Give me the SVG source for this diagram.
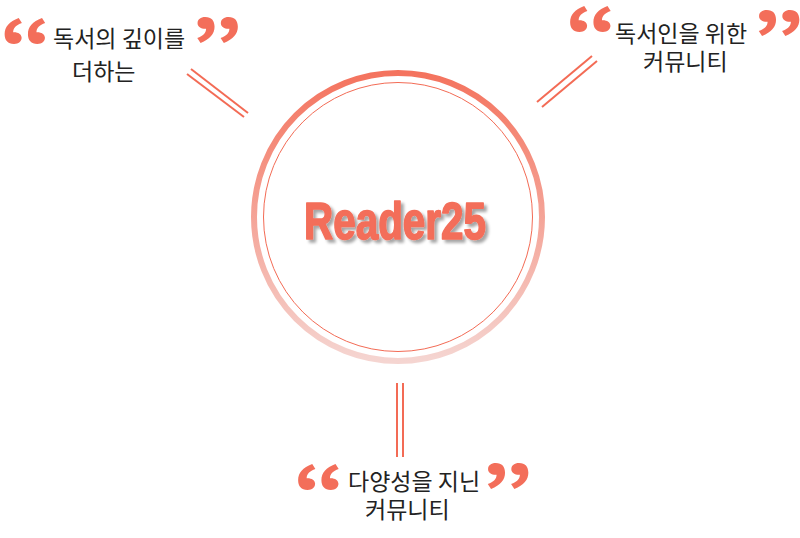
<svg xmlns="http://www.w3.org/2000/svg" width="800" height="538" viewBox="0 0 800 538">
<defs>
<linearGradient id="ringGrad" x1="0" y1="0" x2="0" y2="1">
<stop offset="0" stop-color="#f4735e"/>
<stop offset="1" stop-color="#f5d5d1"/>
</linearGradient>
<filter id="shadow" x="-10%" y="-20%" width="130%" height="160%">
<feGaussianBlur in="SourceAlpha" stdDeviation="1.5"/>
<feOffset dx="3" dy="3" result="b"/>
<feFlood flood-color="#000" flood-opacity="0.35"/>
<feComposite in2="b" operator="in"/>
<feMerge><feMergeNode/><feMergeNode in="SourceGraphic"/></feMerge>
</filter>
</defs>
<style>
.lbl{font-family:"Noto Sans CJK KR","Noto Sans",sans-serif;font-size:23px;fill:#222}
.q{font-family:"Noto Sans CJK KR",sans-serif;font-weight:900;font-size:64px;fill:#f36e5a}
.ln{stroke:#f36b55;stroke-width:2;fill:none}
</style>
<rect width="800" height="538" fill="#fff"/>
<g id="connectors">
<line class="ln" x1="191" y1="69" x2="248" y2="113"/>
<line class="ln" x1="187" y1="74" x2="244" y2="117"/>
<line class="ln" x1="592" y1="56" x2="537" y2="102"/>
<line class="ln" x1="597" y1="61" x2="542" y2="107"/>
<line class="ln" x1="397" y1="383" x2="397" y2="457"/>
<line class="ln" x1="403" y1="383" x2="403" y2="457"/>
</g>
<g id="center">
<circle cx="398" cy="217" r="144" fill="none" stroke="url(#ringGrad)" stroke-width="6"/>
<circle cx="398" cy="217" r="134.5" fill="none" stroke="#f36b55" stroke-width="1"/>
<text x="304" y="239" font-family="Liberation Sans,Arial,sans-serif" font-weight="bold" font-size="51" fill="#f36e5a" stroke="#f36e5a" stroke-width="1.6" stroke-linejoin="round" textLength="182" lengthAdjust="spacingAndGlyphs" filter="url(#shadow)">Reader25</text>
</g>
<g id="node-top-left">
<text class="q" transform="translate(-0.5,67.6) scale(1.3,1)">“</text>
<text class="q" transform="translate(190.5,67.6) scale(1.3,1)">”</text>
<text class="lbl" x="53" y="47">독서의 깊이를</text>
<text class="lbl" x="72" y="80">더하는</text>
</g>
<g id="node-top-right">
<text class="q" transform="translate(565.1,55.6) scale(1.3,1)">“</text>
<text class="q" transform="translate(752.1,60.6) scale(1.3,1)">”</text>
<text class="lbl" x="615" y="42">독서인을 위한</text>
<text class="lbl" x="643" y="70">커뮤니티</text>
</g>
<g id="node-bottom">
<text class="q" transform="translate(293.1,513.6) scale(1.3,1)">“</text>
<text class="q" transform="translate(481.1,513.6) scale(1.3,1)">”</text>
<text class="lbl" x="348" y="490">다양성을 지닌</text>
<text class="lbl" x="365" y="518">커뮤니티</text>
</g>
</svg>
